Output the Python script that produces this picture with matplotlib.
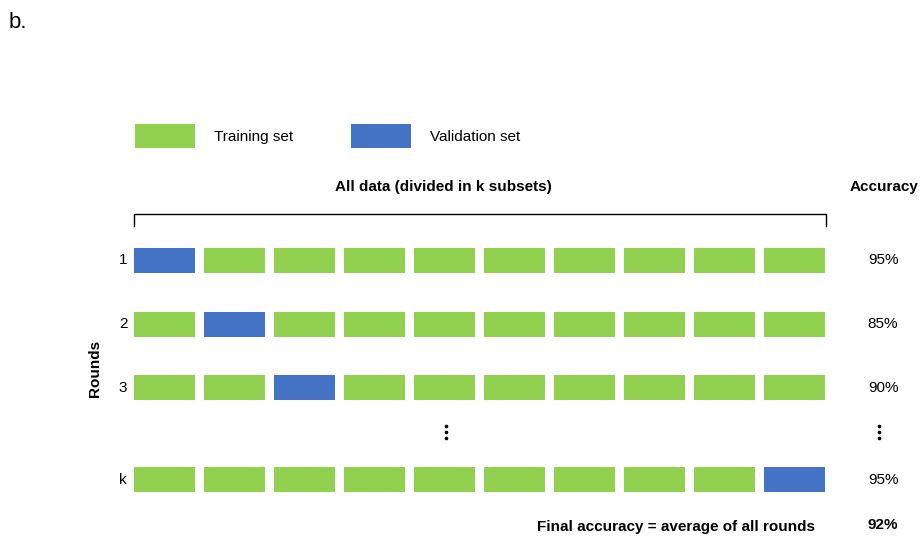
import matplotlib
matplotlib.use("Agg")
import matplotlib.pyplot as plt
from matplotlib.patches import Rectangle

plt.rcParams['font.family'] = ['Liberation Sans', 'DejaVu Sans']

# dados do diagrama
n_subsets = 10
round_labels = ['1', '2', '3', 'k']
validation_idx = [0, 1, 2, 9]
accuracy = ['95%', '85%', '90%', '95%']
final_accuracy = '92%'

green = '#92D050'
blue = '#4472C4'
fs = 11

fig = plt.figure(figsize=(9.21, 5.38), dpi=100)
ax = fig.add_axes([0, 0, 1, 1])
ax.set_xlim(0, 921)
ax.set_ylim(538, 0)
ax.axis('off')

# layout (pixels)
x_start, pitch, bw, bh = 134, 70, 61, 25
row_y = [248, 312, 375, 467]
acc_x = 883

ax.text(9, 22, 'b.', fontsize=16, va='center', ha='left')

# legenda
ax.add_patch(Rectangle((135, 124), 60, 24, color=green, lw=0))
ax.text(214, 137, 'Training set', fontsize=fs, va='center')
ax.add_patch(Rectangle((351, 124), 60, 24, color=blue, lw=0))
ax.text(430, 137, 'Validation set', fontsize=fs, va='center')

# titulo e chave
x_end = x_start + (n_subsets - 1) * pitch + bw + 1
ax.text(443, 187, 'All data (divided in k subsets)',
        fontsize=fs, fontweight='bold', ha='center', va='center')
ax.text(acc_x + 1, 187, 'Accuracy', fontsize=fs, fontweight='bold',
        ha='center', va='center')
ax.plot([x_start, x_start, x_end, x_end], [226, 214, 214, 226],
        color='black', lw=1)

# rodadas
for r, (lab, vi, acc) in enumerate(zip(round_labels, validation_idx, accuracy)):
    y = row_y[r]
    for i in range(n_subsets):
        c = blue if i == vi else green
        ax.add_patch(Rectangle((x_start + i * pitch, y), bw, bh, color=c, lw=0))
    ax.text(123, y + bh / 2, lab, fontsize=fs, ha='center', va='center')
    ax.text(acc_x, y + bh / 2, acc, fontsize=fs, ha='center', va='center')

ax.text(95, 368, 'Rounds', fontsize=fs, fontweight='bold', rotation=90,
        ha='center', va='center')

# reticencias
for xd in [446, 879]:
    ax.plot([xd, xd, xd], [426, 432, 438], 'o', color='black', ms=1.6)

ax.text(676, 527, 'Final accuracy = average of all rounds', fontsize=fs,
        fontweight='bold', ha='center', va='center')
ax.text(acc_x, 525, final_accuracy, fontsize=fs, fontweight='bold',
        ha='center', va='center')

fig.savefig('out.png', dpi=100)
